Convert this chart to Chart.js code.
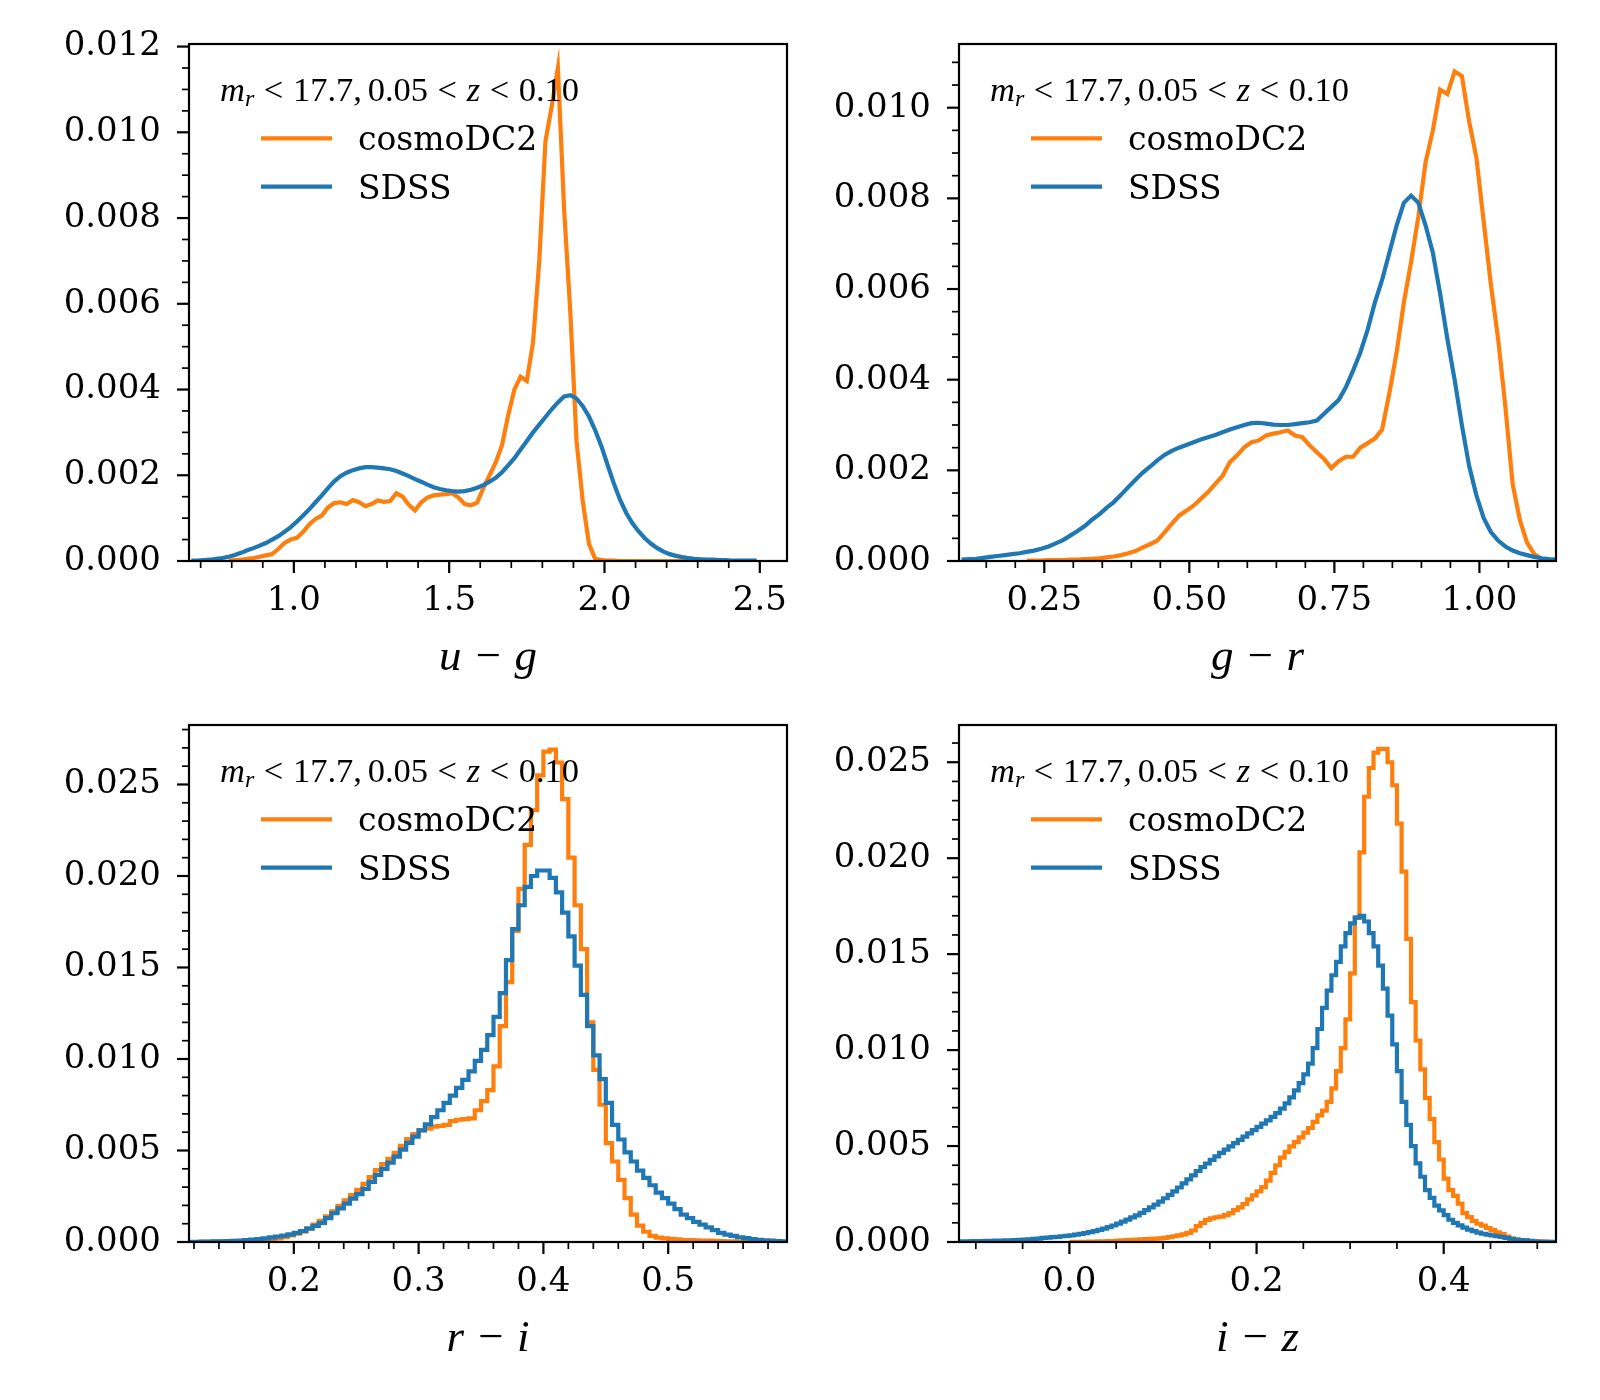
<!DOCTYPE html>
<html>
<head>
<meta charset="utf-8">
<script src="https://cdn.jsdelivr.net/npm/chart.js@4.4.1/dist/chart.umd.min.js"></script>
<style>
html,body{margin:0;padding:0;background:#fff;}
body{width:1600px;height:1400px;position:relative;overflow:hidden;}
.panel{position:absolute;width:800px;height:700px;}
.panel canvas{width:800px;height:700px;display:block;}
</style>
</head>
<body>
<div class="panel" style="left:0px;top:0px"><canvas id="c1" width="800" height="700"></canvas></div>
<div class="panel" style="left:770px;top:0px"><canvas id="c2" width="800" height="700"></canvas></div>
<div class="panel" style="left:0px;top:681px"><canvas id="c3" width="800" height="700"></canvas></div>
<div class="panel" style="left:770px;top:681px"><canvas id="c4" width="800" height="700"></canvas></div>
<script>
// ---------------- data ----------------
const seriesNames = ['cosmoDC2', 'SDSS'];
// [text, style, space before (em)]
const annotationPieces = [['m','it',0],['r','sub',0],['<','up',0.278],['17.7,','up',0.278],['0.05','up',0.167],
  ['<','up',0.278],['z','it',0.278],['<','up',0.278],['0.10','up',0.278]];

// u - g histogram (bin start, bin width, values per bin)
const ugBinStart = 0.66;
const ugBinWidth = 0.02;
const ugCosmo = [null,null,null,null,null,null,
 0.00001,0.00002,0.00003,0.00005,0.00007,0.0001,0.00013,0.00016,0.00028,0.00042,0.0005,
 0.00054,0.00068,0.00086,0.00098,0.00106,0.00125,0.00135,0.00137,0.00133,0.00142,
 0.00137,0.00128,0.00133,0.00141,0.00138,0.0014,0.00158,0.0015,0.00131,0.00118,
 0.00137,0.00148,0.00153,0.00155,0.00156,0.00158,0.00148,0.00133,0.0013,0.00136,
 0.0017,0.002,0.0023,0.0027,0.0034,0.004,0.0043,0.0042,0.0051,0.007,
 0.0098,0.0106,0.0115,0.0082,0.0058,0.0028,0.0014,0.0004,0.00005,0.00002,
 0.00001,0.00001,0,0,0,0,0,0,0,0,0,0,0,0,
 null,null,null,null,null,null,null,null,null,null,null];
const ugSdss = [0.00001,0.00001,
 0.00002,0.00003,0.00005,0.00007,0.0001,0.00014,0.00019,0.00025,0.0003,0.00036,
 0.00042,0.0005,0.00058,0.00068,0.00079,0.00092,0.00106,0.00121,0.00137,0.00153,
 0.0017,0.00186,0.00198,0.00206,0.00212,0.00216,0.00219,0.00219,0.00218,0.00216,
 0.00214,0.0021,0.00204,0.00198,0.00191,0.00185,0.00178,0.00172,0.00168,0.00165,
 0.00163,0.00162,0.00163,0.00166,0.00171,0.00177,0.00185,0.00194,0.00207,0.00223,
 0.0024,0.0026,0.0028,0.003,0.00318,0.00336,0.00354,0.0037,0.00384,0.00387,
 0.00379,0.00361,0.00337,0.00305,0.00268,0.00224,0.00181,0.00143,0.00112,0.00088,
 0.00069,0.00053,0.0004,0.0003,0.00022,0.00016,0.00012,0.00009,0.00007,0.00005,
 0.00004,0.00003,0.00003,0.00002,0.00002,0.00001,0.00001,0.00001,0.00001,0.00001];
const ugXTicks = [1.0, 1.5, 2.0, 2.5];
const ugYTicks = [0, 0.002, 0.004, 0.006, 0.008, 0.010, 0.012];

// g - r histogram
const grBinStart = 0.101;
const grBinWidth = 0.0125;
const grCosmo = [null,null,null,null,null,null,null,null,null,
 0.00001,0.00001,0.00001,0.00002,0.00002,0.00002,0.00003,0.00003,0.00004,0.00005,
 0.00006,0.00008,0.0001,0.00013,0.00017,0.00022,0.0003,0.00037,0.00045,0.00063,
 0.00082,0.001,0.00111,0.00122,0.00137,0.00152,0.0017,0.00188,0.00218,0.00233,
 0.00251,0.00262,0.00266,0.00277,0.00281,0.00284,0.00288,0.00277,0.00273,0.00255,
 0.0024,0.00225,0.00205,0.0022,0.0023,0.0023,0.0025,0.0026,0.0027,0.0029,
 0.0037,0.0046,0.0057,0.0066,0.0076,0.0088,0.0095,0.0104,0.0103,0.0108,
 0.0107,0.0097,0.0089,0.0075,0.0061,0.0049,0.0034,0.0017,0.0009,0.0004,
 0.00015,0.00005,0.00002,0];
const grSdss = [0.00003,0.00004,0.00005,0.00007,0.00009,0.00011,0.00013,0.00015,0.00017,0.0002,
 0.00023,0.00027,0.00032,0.00039,0.00046,0.00056,0.00066,0.00077,0.00091,0.00103,
 0.00117,0.0013,0.00146,0.00163,0.00179,0.00195,0.00208,0.00222,0.00234,0.00243,
 0.0025,0.00256,0.00262,0.00268,0.00273,0.00278,0.00284,0.0029,0.00295,0.003,
 0.00304,0.00305,0.00303,0.00301,0.003,0.003,0.00302,0.00304,0.00306,0.0031,
 0.00325,0.0034,0.00355,0.00383,0.0042,0.0046,0.0051,0.0057,0.0062,0.0068,
 0.0074,0.0079,0.00806,0.0079,0.0074,0.0068,0.0059,0.0049,0.004,0.003,
 0.0021,0.00145,0.00095,0.00064,0.00045,0.00032,0.00023,0.00017,0.00013,0.00009,
 0.00006,0.00004,0.00003];
const grXTicks = [0.25, 0.50, 0.75, 1.00];
const grYTicks = [0, 0.002, 0.004, 0.006, 0.008, 0.010];

// r - i histogram
const riBinStart = 0.115;
const riBinWidth = 0.005;
const riCosmo = [null,null,0.00001,0.00001,0.00002,0.00002,0.00003,0.00004,0.00005,0.00006,
 0.00008,0.0001,0.00012,0.00016,0.0002,0.00027,0.00036,0.00046,0.00056,0.00075,
 0.00095,0.00115,0.0014,0.00168,0.00198,0.00228,0.00256,0.00285,0.00318,0.00355,
 0.00393,0.00425,0.00455,0.00487,0.00525,0.00562,0.0059,0.00611,0.0062,0.0063,
 0.00634,0.0064,0.0066,0.00668,0.00671,0.00676,0.0072,0.0077,0.0083,0.0096,
 0.0118,0.0142,0.017,0.0193,0.0217,0.0236,0.0255,0.0268,0.0269,0.0262,
 0.0242,0.021,0.0184,0.016,0.012,0.0094,0.0075,0.0054,0.0044,0.0034,
 0.0024,0.0015,0.0009,0.00056,0.00033,0.00024,0.0002,0.00017,0.00014,0.00011,
 0.0001,0.00009,0.00008,0.00007,0.00006,0.00005,0.00004,0.00003,0.00002,0.00002,
 0.00001,0.00001,0,null,null,null];
const riSdss = [0.00001,0.00001,0.00002,0.00002,0.00003,0.00004,0.00005,0.00006,0.00008,0.0001,
 0.00013,0.00016,0.0002,0.00025,0.0003,0.00035,0.00042,0.0005,0.0006,0.00073,
 0.00088,0.00105,0.0013,0.00157,0.00184,0.0021,0.00237,0.00262,0.0029,0.00328,
 0.00366,0.004,0.00434,0.00467,0.00505,0.00542,0.00576,0.0061,0.00643,0.00682,
 0.0072,0.0076,0.008,0.00842,0.00886,0.00932,0.0099,0.0105,0.0113,0.0123,
 0.0136,0.0154,0.0171,0.0184,0.0194,0.02,0.0203,0.0203,0.0199,0.0191,
 0.018,0.0167,0.0151,0.0135,0.0118,0.0102,0.0089,0.0076,0.0064,0.0056,
 0.0049,0.0044,0.0039,0.0035,0.0031,0.0027,0.0024,0.0021,0.0018,0.0015,
 0.0013,0.0011,0.00095,0.0008,0.00065,0.0005,0.0004,0.00033,0.00026,0.00021,
 0.00016,0.00012,0.00009,0.00007,0.00005,0.00004];
const riXTicks = [0.2, 0.3, 0.4, 0.5];
const riYTicks = [0, 0.005, 0.010, 0.015, 0.020, 0.025];

// i - z histogram
const izBinStart = -0.12;
const izBinWidth = 0.005;
const izCosmo = [null,null,null,null,null,null,null,null,null,null,null,null,
 null,null,null,null,null,null,null,null,null,null,null,null,
 0.00001,0.00001,0.00001,0.00001,0.00002,0.00002,0.00003,0.00004,0.00005,0.00005,
 0.00007,0.00008,0.0001,0.00011,0.00012,0.00014,0.00015,0.00016,0.00018,0.00019,
 0.00022,0.00026,0.0003,0.00035,0.0004,0.00048,0.0006,0.00083,0.001,0.00115,
 0.00123,0.00129,0.00132,0.0014,0.0015,0.00166,0.0018,0.00198,0.00222,0.00243,
 0.00264,0.00286,0.0032,0.0036,0.004,0.0044,0.0047,0.00498,0.0052,0.00545,
 0.0057,0.00594,0.00626,0.0066,0.00685,0.0073,0.008,0.0089,0.0101,0.0116,
 0.014,0.0169,0.0203,0.0232,0.0247,0.0255,0.0257,0.0257,0.025,0.0238,
 0.0218,0.0193,0.0158,0.0125,0.0105,0.009,0.0075,0.0064,0.0052,0.0043,
 0.0033,0.0027,0.0024,0.002,0.0015,0.0013,0.0011,0.00095,0.00085,0.00073,
 0.00063,0.0005,0.00041,0.00028,0.00018,0.00013,0.0001,0.00008,0.00005,0.00003,
 0.00002,0.00001,0.00001,0];
const izSdss = [0.00004,0.00004,0.00004,0.00005,0.00005,0.00005,0.00006,0.00006,0.00007,0.00007,
 0.00008,0.00009,0.0001,0.00011,0.00013,0.00014,0.00016,0.00018,0.00021,0.00023,
 0.00025,0.00027,0.0003,0.00032,0.00035,0.00038,0.00042,0.00046,0.00051,0.00057,
 0.00063,0.0007,0.00078,0.00086,0.00096,0.00106,0.00117,0.00128,0.00139,0.00152,
 0.00166,0.0018,0.00195,0.0021,0.00228,0.00246,0.00264,0.00284,0.00305,0.00326,
 0.00347,0.0037,0.0039,0.00409,0.00428,0.00446,0.00464,0.00481,0.00498,0.00515,
 0.00532,0.00549,0.00566,0.00583,0.006,0.00617,0.00634,0.00652,0.00672,0.00695,
 0.00722,0.00754,0.0079,0.00828,0.00873,0.0093,0.0101,0.0111,0.0122,0.0131,
 0.0139,0.0146,0.0154,0.0161,0.0166,0.0169,0.017,0.0167,0.0161,0.0154,
 0.0144,0.0132,0.0118,0.0103,0.0089,0.0073,0.0061,0.005,0.0041,0.0034,
 0.0027,0.0023,0.0019,0.00165,0.0014,0.00116,0.001,0.00087,0.00075,0.00065,
 0.00057,0.00049,0.00043,0.00038,0.00034,0.0003,0.00026,0.00021,0.00017,0.00013,
 0.0001,0.00008,0.00006,0.00004,0.00002,0.00002,0.00001,0.00001];
const izXTicks = [0.0, 0.2, 0.4];
const izYTicks = [0, 0.005, 0.010, 0.015, 0.020, 0.025];

// ---------------- styles / layout ----------------
const COLORS = {cosmo: '#ff7f0e', sdss: '#1f77b4'};
const TICK_FONT = {family: 'DejaVu Serif', size: 34};
const LINE_W = 4.2;

const panelDefs = [
  {id:'c1', rightPad:13, xMin:0.6625, xMax:2.5875, yMax:0.01206, xTicks:ugXTicks, xDec:1, xMinor:0.1, yTicks:ugYTicks, yMinor:0.0005,
   binStart:ugBinStart, binWidth:ugBinWidth, cosmo:ugCosmo, sdss:ugSdss, title:'u \u2212 g', steps:false},
  {id:'c2', rightPad:14, xMin:0.103, xMax:1.132, yMax:0.011405, xTicks:grXTicks, xDec:2, xMinor:0.05, yTicks:grYTicks, yMinor:0.0005,
   binStart:grBinStart, binWidth:grBinWidth, cosmo:grCosmo, sdss:grSdss, title:'g \u2212 r', steps:false},
  {id:'c3', rightPad:13, xMin:0.116, xMax:0.5952, yMax:0.02825, xTicks:riXTicks, xDec:1, xMinor:0.02, yTicks:riYTicks, yMinor:0.001,
   binStart:riBinStart, binWidth:riBinWidth, cosmo:riCosmo, sdss:riSdss, title:'r \u2212 i', steps:true},
  {id:'c4', rightPad:14, xMin:-0.118, xMax:0.520, yMax:0.02694, xTicks:izXTicks, xDec:1, xMinor:0.05, yTicks:izYTicks, yMinor:0.001,
   binStart:izBinStart, binWidth:izBinWidth, cosmo:izCosmo, sdss:izSdss, title:'i \u2212 z', steps:true}
];

// step outline: one point per bin left edge, plus the closing right edge
function histPoints(start, width, vals) {
  const pts = vals.map((v, i) => ({x: +(start + i * width).toFixed(6), y: v}));
  pts.push({x: +(start + vals.length * width).toFixed(6), y: vals[vals.length - 1]});
  return pts;
}
// fine-binned histogram drawn through bin centres
function centerPoints(start, width, vals) {
  return vals.map((v, i) => ({x: +(start + (i + 0.5) * width).toFixed(6), y: v}));
}

function drawDecor(chart, p) {
  const ctx = chart.ctx, a = chart.chartArea, xs = chart.scales.x, ys = chart.scales.y;
  ctx.save();
  ctx.strokeStyle = '#000';
  const near = (v, arr) => arr.some(t => Math.abs(t - v) < 1e-7);
  for (let k = Math.ceil(p.xMin / p.xMinor - 1e-6); k * p.xMinor <= p.xMax + 1e-9; k++) {
    const v = k * p.xMinor;
    const major = near(v, p.xTicks);
    const px = xs.getPixelForValue(v);
    ctx.lineWidth = major ? 2.2 : 1.7;
    ctx.beginPath(); ctx.moveTo(px, a.bottom); ctx.lineTo(px, a.bottom + (major ? 12 : 7)); ctx.stroke();
  }
  for (let k = 0; k * p.yMinor <= p.yMax + 1e-12; k++) {
    const v = k * p.yMinor;
    const major = near(v, p.yTicks);
    const py = ys.getPixelForValue(v);
    ctx.lineWidth = major ? 2.2 : 1.7;
    ctx.beginPath(); ctx.moveTo(a.left, py); ctx.lineTo(a.left - (major ? 12 : 7), py); ctx.stroke();
  }
  ctx.lineWidth = 2.2;
  ctx.strokeRect(a.left, a.top, a.right - a.left, a.bottom - a.top);

  // annotation  m_r < 17.7, 0.05 < z < 0.10
  const fs = 34.5;
  let x = a.left + 31;
  const base = a.top + 56.7;
  ctx.fillStyle = '#000';
  ctx.textBaseline = 'alphabetic';
  ctx.textAlign = 'left';
  annotationPieces.forEach(([t, kind, sp]) => {
    x += sp * fs;
    let font = fs + 'px "Liberation Serif"';
    let y = base;
    if (kind === 'it') font = 'italic ' + fs + 'px "Liberation Serif"';
    if (kind === 'sub') { font = 'italic ' + Math.round(fs * 0.7) + 'px "Liberation Serif"'; y = base + 5; }
    ctx.font = font;
    ctx.fillText(t, x, y);
    x += ctx.measureText(t).width;
  });

  // legend
  const rows = [[seriesNames[0], COLORS.cosmo, 94.3], [seriesNames[1], COLORS.sdss, 142.7]];
  rows.forEach(([name, col, off]) => {
    const ly = a.top + off;
    ctx.strokeStyle = col; ctx.lineWidth = LINE_W; ctx.lineCap = 'butt';
    ctx.beginPath(); ctx.moveTo(a.left + 72, ly); ctx.lineTo(a.left + 143, ly); ctx.stroke();
    ctx.fillStyle = '#000';
    ctx.font = '33px "DejaVu Serif"';
    ctx.fillText(name, a.left + 169, ly + 11.8);
  });
  ctx.restore();
}

panelDefs.forEach(p => {
  const ctx = document.getElementById(p.id).getContext('2d');
  const toPts = p.steps ? histPoints : centerPoints;
  const common = {borderWidth: LINE_W, pointRadius: 0, stepped: p.steps ? 'before' : false, tension: 0,
                  fill: false, spanGaps: false, clip: 0, borderJoinStyle: 'miter'};
  new Chart(ctx, {
    type: 'line',
    data: {
      datasets: [
        Object.assign({label: seriesNames[0], data: toPts(p.binStart, p.binWidth, p.cosmo), borderColor: COLORS.cosmo, order: 1}, common),
        Object.assign({label: seriesNames[1], data: toPts(p.binStart, p.binWidth, p.sdss), borderColor: COLORS.sdss, order: 0}, common)
      ]
    },
    options: {
      responsive: false,
      devicePixelRatio: 1,
      animation: false,
      events: [],
      layout: {padding: {top: 44, right: p.rightPad, left: 0, bottom: 0}},
      plugins: {legend: {display: false}, tooltip: {enabled: false}, title: {display: false}},
      scales: {
        x: {
          type: 'linear', min: p.xMin, max: p.xMax,
          afterBuildTicks: s => { s.ticks = p.xTicks.map(v => ({value: v})); },
          afterFit: s => { s.height = 139; },
          ticks: {font: TICK_FONT, color: '#000', padding: 8, autoSkip: false, maxRotation: 0,
                  callback: v => Number(v).toFixed(p.xDec)},
          grid: {display: true, drawOnChartArea: false, drawTicks: true, tickLength: 12, color: 'rgba(0,0,0,0)'},
          border: {display: false},
          title: {display: true, text: p.title, color: '#000',
                  font: {family: 'Liberation Serif', style: 'italic', size: 45}, padding: {top: 0, bottom: 15}}
        },
        y: {
          type: 'linear', min: 0, max: p.yMax,
          afterBuildTicks: s => { s.ticks = p.yTicks.map(v => ({value: v})); },
          afterFit: s => { s.width = 189; },
          ticks: {font: TICK_FONT, color: '#000', padding: 16, autoSkip: false,
                  callback: v => Number(v).toFixed(3)},
          grid: {display: true, drawOnChartArea: false, drawTicks: true, tickLength: 12, color: 'rgba(0,0,0,0)'},
          border: {display: false}
        }
      }
    },
    plugins: [{id: 'decor' + p.id, afterDraw: c => drawDecor(c, p)}]
  });
});
</script>
</body>
</html>
